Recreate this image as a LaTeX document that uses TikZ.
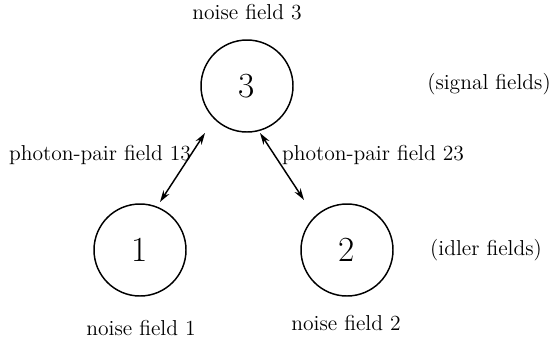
\documentclass[tikz,border=0pt]{standalone}
\usetikzlibrary{arrows.meta,calc}
\begin{document}
\begin{tikzpicture}[x=0.51pt,y=-0.51pt,
  field/.style={draw,circle,line width=0.75pt,minimum size=92*0.51pt,inner sep=0pt,
                font=\fontsize{18}{20}\selectfont},
  lbl/.style={inner sep=0pt,font=\fontsize{11}{13}\selectfont},
  pair/.style={line width=0.75pt,{Stealth[length=6pt,width=3.6pt]}-{Stealth[length=6pt,width=3.6pt]}}]
\useasboundingbox (0,0) rectangle (553,346);
% field modes
\node[field] (c3) at (247,86) {3};
\node[field] (c1) at (140,250) {1};
\node[field] (c2) at (347,250) {2};
% labels
\node[lbl] (n3) at (247,12) {noise field 3};
\node[lbl] (n1) at (141,328) {noise field 1};
\node[lbl] (n2) at (346,323) {noise field 2};
\node[lbl] (sig) at (489,84) {(signal fields)};
\node[lbl] (idl) at (486,250) {(idler fields)};
\node[lbl] (p13) at (100,155) {photon-pair field 13};
\node[lbl] (p23) at (373,155) {photon-pair field 23};
% photon-pair links
\coordinate (a1) at ($(c1)+(20,-48)$);
\coordinate (a3) at ($(c3)+(-42,47)$);
\coordinate (b3) at ($(c3)+(13,47)$);
\coordinate (b2) at ($(c2)+(-43,-50)$);
\draw[pair] (a1) -- (a3);
\draw[pair] (b3) -- (b2);
\end{tikzpicture}
\end{document}
